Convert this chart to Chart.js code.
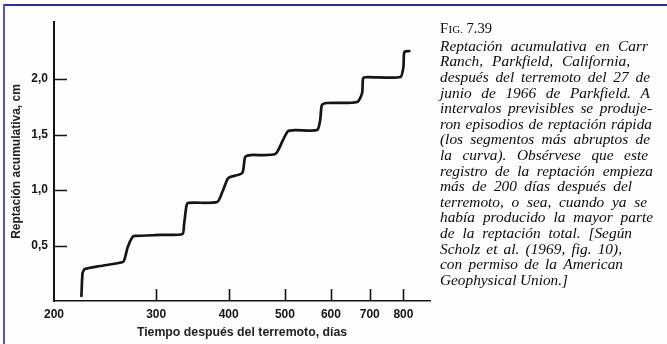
<!DOCTYPE html>
<html>
<head>
<meta charset="utf-8">
<script src="https://cdn.jsdelivr.net/npm/chart.js@4.4.1/dist/chart.umd.min.js"></script>
<style>
  html, body { margin: 0; padding: 0; background: #fff; }
  #wrap { position: relative; width: 667px; height: 344px; overflow: hidden; background: #fefefe; }
  #c { position: absolute; left: 0; top: 0; }
  .bt { position: absolute; left: 3px; top: 4px; width: 664px; height: 2px; background: #2c2cb2; }
  .bl { position: absolute; left: 3px; top: 4px; width: 2px; height: 340px; background: #5252d6; }
</style>
</head>
<body>
<div id="wrap">
  <canvas id="c" width="667" height="344"></canvas>
  <div class="bt"></div>
  <div class="bl"></div>
</div>
<script>
// ---- data ----
const days  = [223, 224, 226, 240, 263, 265, 268, 273, 276, 305, 333, 335, 338, 340, 382, 390, 398, 402, 422, 427, 436, 481, 496, 506, 521, 568, 575, 579, 591, 666, 679, 682, 693, 790, 800, 803, 819];
const creep = [0.045, 0.252, 0.288, 0.315, 0.351, 0.387, 0.486, 0.577, 0.586, 0.595, 0.604, 0.685, 0.847, 0.883, 0.892, 0.982, 1.099, 1.117, 1.153, 1.297, 1.315, 1.324, 1.45, 1.53, 1.54, 1.54, 1.63, 1.766, 1.784, 1.793, 1.874, 2.009, 2.018, 2.018, 2.108, 2.243, 2.252];
const xTickValues = [200, 300, 400, 500, 600, 700, 800];
const xMarkValues = [300, 400, 500, 600, 700, 800];
const yTickValues = [0.5, 1.0, 1.5, 2.0];
const xTitle = 'Tiempo después del terremoto, días';
const yTitle = 'Reptación acumulativa, cm';
const figLabel = ['F', 'IG.', ' 7.39'];
const captionLines = [
  'Reptación acumulativa en Carr',
  'Ranch, Parkfield, California,',
  'después del terremoto del 27 de',
  'junio de 1966 de Parkfield. A',
  'intervalos previsibles se produje-',
  'ron episodios de reptación rápida',
  '(los segmentos más abruptos de',
  'la curva). Obsérvese que este',
  'registro de la reptación empieza',
  'más de 200 días después del',
  'terremoto, o sea, cuando ya se',
  'había producido la mayor parte',
  'de la reptación total. [Según',
  'Scholz et al. (1969, fig. 10),',
  'con permiso de la American',
  'Geophysical Union.]'
];

// ---- layout (styles / positions) ----
const captionRight = [648, 630, 650, 650, 652, 652, 650, 648, 653, 632, 647, 653, 632, 622, 623, 568];
const captionLeft = 440, captionTop = 47, captionStep = 15.6;
const ink = '#151515';

const points = days.map((d, i) => ({ x: d, y: creep[i] }));

const innerTicks = {
  id: 'innerTicks',
  afterDatasetsDraw(chart) {
    const { ctx, chartArea: a, scales: { x, y } } = chart;
    ctx.save();
    ctx.strokeStyle = ink;
    ctx.lineWidth = 1.6;
    ctx.beginPath();
    yTickValues.forEach(v => {
      const py = Math.round(y.getPixelForValue(v)) + 0.5;
      ctx.moveTo(a.left, py); ctx.lineTo(a.left + 13, py);
    });
    xMarkValues.forEach(v => {
      const px = Math.round(x.getPixelForValue(v)) + 0.5;
      ctx.moveTo(px, a.bottom); ctx.lineTo(px, a.bottom - 12);
    });
    ctx.stroke();
    ctx.restore();
  }
};

const caption = {
  id: 'caption',
  afterDraw(chart) {
    const ctx = chart.ctx;
    ctx.save();
    ctx.fillStyle = '#0a0a0a';
    ctx.textBaseline = 'middle';
    // FIG. 7.39 in small caps
    let fx = captionLeft;
    const fy = 29;
    ctx.font = '14.5px "Liberation Serif"';
    ctx.fillText(figLabel[0], fx, fy); fx += ctx.measureText(figLabel[0]).width + 0.5;
    ctx.font = '11px "Liberation Serif"';
    ctx.fillText(figLabel[1], fx, fy + 1); fx += ctx.measureText(figLabel[1]).width;
    ctx.font = '14.5px "Liberation Serif"';
    ctx.fillText(figLabel[2], fx, fy);
    // justified italic caption
    ctx.font = 'italic 14.5px "Liberation Serif"';
    const baseScale = 1.06;
    captionLines.forEach((line, i) => {
      const words = line.split(' ');
      const y = captionTop + i * captionStep;
      const target = captionRight[i] - captionLeft;
      const widths = words.map(w => ctx.measureText(w).width);
      const natural = widths.reduce((s, w) => s + w, 0);
      const gaps = words.length - 1;
      let scale = baseScale;
      let gap = gaps > 0 ? (target - natural * scale) / gaps : 0;
      if (gap < 3.5) { gap = 3.5; scale = (target - gap * gaps) / natural; }
      let x = captionLeft;
      words.forEach((w, k) => {
        ctx.save();
        ctx.translate(x, y);
        ctx.scale(scale, 1);
        ctx.fillText(w, 0, 0);
        ctx.restore();
        x += widths[k] * scale + gap;
      });
    });
    ctx.restore();
  }
};

new Chart(document.getElementById('c'), {
  type: 'line',
  data: {
    datasets: [{
      data: points,
      borderColor: ink,
      borderWidth: 2.7,
      pointRadius: 0,
      fill: false,
      tension: 0.22,
      borderCapStyle: 'round',
      borderJoinStyle: 'round'
    }]
  },
  options: {
    responsive: false,
    animation: false,
    devicePixelRatio: 1,
    layout: { padding: { left: 0, top: 22, right: 237, bottom: 0 } },
    plugins: { legend: { display: false }, tooltip: { enabled: false } },
    scales: {
      x: {
        type: 'logarithmic',
        min: 200, max: 889,
        afterBuildTicks: s => { s.ticks = xTickValues.map(v => ({ value: v })); },
        afterFit: s => { s.height = 43; },
        grid: { drawOnChartArea: false, drawTicks: false },
        border: { display: true, color: ink, width: 1.6 },
        ticks: {
          autoSkip: false, maxRotation: 0, padding: 6,
          color: ink, font: { family: 'Liberation Sans', size: 12, weight: 'bold' },
          callback: v => String(v)
        },
        title: {
          display: true, text: xTitle, color: '#222',
          font: { family: 'Liberation Sans', size: 12.3, weight: 'bold' },
          padding: { top: 0, bottom: 4 }
        }
      },
      y: {
        type: 'linear',
        min: 0, max: 2.514,
        afterBuildTicks: s => { s.ticks = yTickValues.map(v => ({ value: v })); },
        afterFit: s => { s.width = 54; },
        grid: { drawOnChartArea: false, drawTicks: false },
        border: { display: true, color: ink, width: 2 },
        ticks: {
          autoSkip: false, padding: 6,
          color: ink, font: { family: 'Liberation Sans', size: 12, weight: 'bold' },
          callback: v => Number(v).toFixed(1).replace('.', ',')
        },
        title: {
          display: true, text: yTitle, color: '#222',
          font: { family: 'Liberation Sans', size: 12, weight: 'bold' },
          padding: { top: 9, bottom: 0 }
        }
      }
    }
  },
  plugins: [innerTicks, caption]
});
</script>
</body>
</html>
